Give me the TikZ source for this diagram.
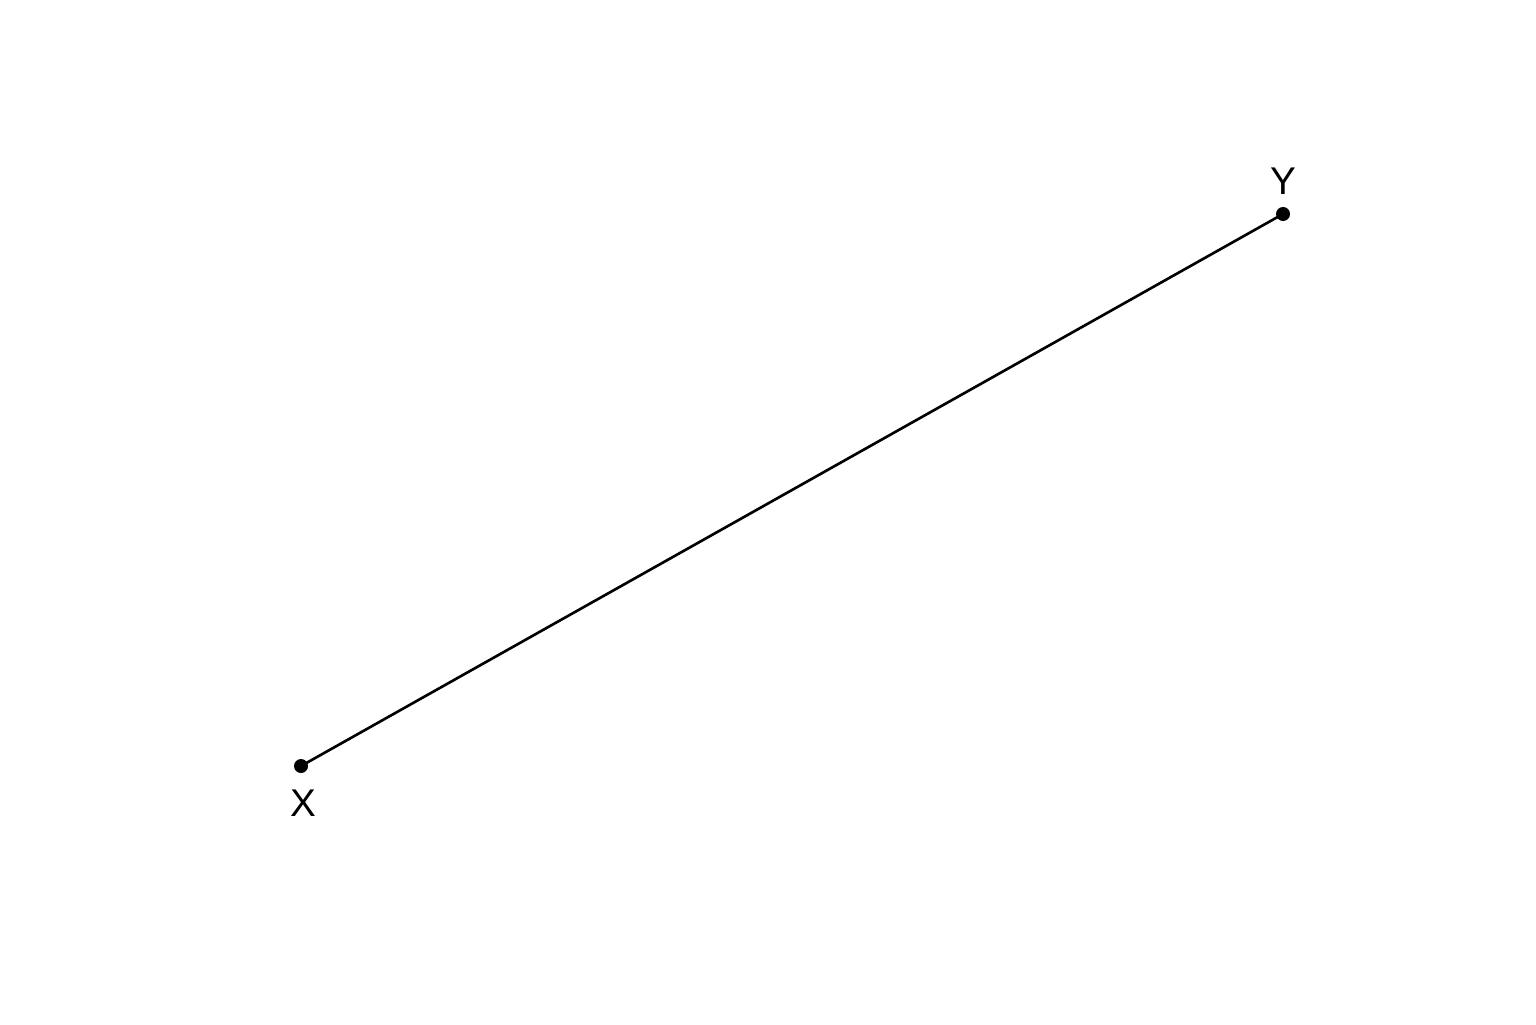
\documentclass[tikz,border=0pt]{standalone}
\usepackage{fontspec}
\setmainfont{Liberation Sans}
\usepackage{xcolor}
\usepackage{tikz}
\usetikzlibrary{calc}
\definecolor{bg}{HTML}{FFFFFF}
\definecolor{ink}{HTML}{000000}
\tikzset{
  base/.style={draw=ink, line width=0.75pt, line cap=round, line join=round},
  dot/.style={circle, fill=ink, inner sep=0pt, minimum size=0.14cm},
  lab/.style={text=ink, font=\fontsize{11pt}{13pt}\selectfont, inner sep=0pt},
}
\begin{document}
\begin{tikzpicture}
  \useasboundingbox[fill=bg] (0,0) rectangle (15.36,10.24);
  \node[dot] (X) at (3.01,2.58) {};
  \node[dot] (Y) at (12.83,8.10) {};
  \draw[base] (X.center) -- (Y.center);
  \node[lab] (labX) at ($(X)+(0.02,-0.37)$) {X};
  \node[lab] (labY) at ($(Y)+(0,0.33)$) {Y};
\end{tikzpicture}
\end{document}
